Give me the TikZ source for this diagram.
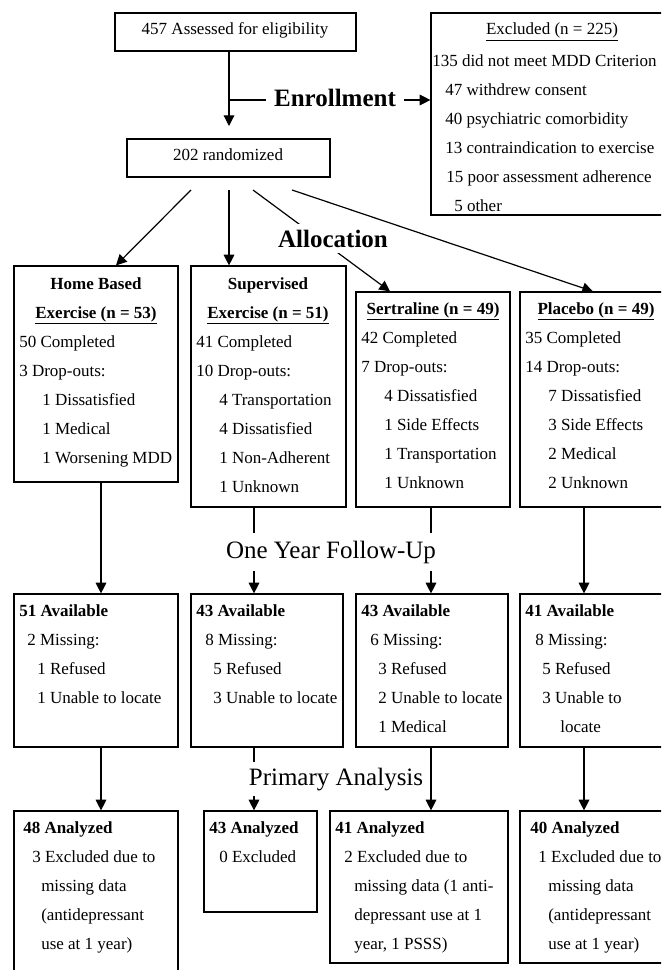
\documentclass[tikz,border=0pt]{standalone}
\usepackage{fontspec}
\setmainfont{Liberation Serif}
\usetikzlibrary{arrows.meta,fit}
\newlength\pxl
\setlength\pxl{0.75pt}
\newcommand\myind[1]{\hspace*{#1\pxl}}
\newcommand\freg{\fontsize{12.75}{21.75}\selectfont}
\newcommand\fbigsz{\fontsize{18.75}{22}\selectfont}
\begin{document}
\begin{tikzpicture}[x=0.75pt,y=-0.75pt,
  box/.style={draw, line width=0.9pt, inner sep=0pt},
  txt/.style={inner sep=0pt, anchor=north west, align=left, font=\freg},
  ctr/.style={inner sep=0pt, anchor=base, font=\freg},
  hdr/.style={inner sep=0pt, anchor=base, font=\freg\bfseries},
  con/.style={line width=0.9pt},
  arr/.style={con, -{Triangle[length=8pt,width=8pt]}},
  phase/.style={font=\fbigsz, fill=white, anchor=base}]
\useasboundingbox (0,0) rectangle (661,970);
\clip (0,0) rectangle (661,970);
\fill[white] (0,0) rectangle (661,970);

% ---------- boxes ----------
\node[box, fit={(115,13) (356,51)}] (assess) {};
\node[box, fit={(431,13) (680,215)}] (excl) {};
\node[box, fit={(127,139) (330,177)}] (rand) {};
\node[box, fit={(14,266) (178,482)}] (armH) {};
\node[box, fit={(191,266) (346,507)}] (armS) {};
\node[box, fit={(356,292) (510,507)}] (armT) {};
\node[box, fit={(520,292) (680,507)}] (armP) {};
\node[box, fit={(14,594) (178,747)}] (avH) {};
\node[box, fit={(191,594) (343,747)}] (avS) {};
\node[box, fit={(356,594) (508,747)}] (avT) {};
\node[box, fit={(520,594) (680,747)}] (avP) {};
\node[box, fit={(14,811) (178,990)}] (anH) {};
\node[box, fit={(204,811) (317,912)}] (anS) {};
\node[box, fit={(330,811) (508,963)}] (anT) {};
\node[box, fit={(520,811) (680,963)}] (anP) {};

% ---------- texts ----------
\node[ctr] (assessT) at (235,35) {457 Assessed for eligibility};
\node[ctr] (exclT) at (552,35) {\underline{Excluded (n = 225)}};
\node[txt] (exclL) at (432,54) {135 did not meet MDD Criterion\\\myind{13}47 withdrew consent\\\myind{13}40 psychiatric comorbidity\\\myind{13}13 contraindication to exercise\\\myind{14}15 poor assessment adherence\\\myind{22}5 other};
\node[ctr] (randT) at (228,161) {202 randomized};

\node[hdr] (armHh1) at (96,289) {Home Based};
\node[hdr] (armHh2) at (96,318) {\underline{Exercise (n = 53)}};
\node[hdr] (armSh1) at (268,289) {Supervised};
\node[hdr] (armSh2) at (268,318) {\underline{Exercise (n = 51)}};
\node[hdr] (armTh) at (433,314) {\underline{Sertraline (n = 49)}};
\node[hdr] (armPh) at (596,314) {\underline{Placebo (n = 49)}};

\node[txt] (armHL) at (19,335) {50 Completed\\3 Drop-outs:\\\myind{23}1 Dissatisfied\\\myind{23}1 Medical\\\myind{23}1 Worsening MDD};
\node[txt] (armSL) at (196,335) {41 Completed\\10 Drop-outs:\\\myind{23}4 Transportation\\\myind{23}4 Dissatisfied\\\myind{23}1 Non-Adherent\\\myind{23}1 Unknown};
\node[txt] (armTL) at (361,331) {42 Completed\\7 Drop-outs:\\\myind{23}4 Dissatisfied\\\myind{23}1 Side Effects\\\myind{23}1 Transportation\\\myind{23}1 Unknown};
\node[txt] (armPL) at (525,331) {35 Completed\\14 Drop-outs:\\\myind{23}7 Dissatisfied\\\myind{23}3 Side Effects\\\myind{23}2 Medical\\\myind{23}2 Unknown};

\node[txt] (avHL) at (19,604) {\textbf{51 Available}\\\myind{8}2 Missing:\\\myind{18}1 Refused\\\myind{18}1 Unable to locate};
\node[txt] (avSL) at (196,604) {\textbf{43 Available}\\\myind{9}8 Missing:\\\myind{17}5 Refused\\\myind{17}3 Unable to locate};
\node[txt] (avTL) at (361,604) {\textbf{43 Available}\\\myind{9}6 Missing:\\\myind{17}3 Refused\\\myind{17}2 Unable to locate\\\myind{17}1 Medical};
\node[txt] (avPL) at (525,604) {\textbf{41 Available}\\\myind{10}8 Missing:\\\myind{17}5 Refused\\\myind{17}3 Unable to\\\myind{35}locate};

\node[txt] (anHL) at (23,821) {\textbf{48 Analyzed}\\\myind{9}3 Excluded due to\\\myind{18}missing data\\\myind{18}(antidepressant\\\myind{18}use at 1 year)};
\node[txt] (anSL) at (209,821) {\textbf{43 Analyzed}\\\myind{10}0 Excluded};
\node[txt] (anTL) at (335,821) {\textbf{41 Analyzed}\\\myind{9}2 Excluded due to\\\myind{19}missing data (1 anti-\\\myind{19}depressant use at 1\\\myind{19}year, 1 PSSS)};
\node[txt] (anPL) at (530,821) {\textbf{40 Analyzed}\\\myind{8}1 Excluded due to\\\myind{18}missing data\\\myind{18}(antidepressant\\\myind{18}use at 1 year)};

% ---------- enrollment ----------
\coordinate (aT) at (229,126);
\draw[arr] (assess.south -| aT) -- (aT);
\coordinate (eB) at (229,100);
\node[font=\fbigsz\bfseries, inner sep=0pt, inner xsep=6pt, anchor=base] (enr) at (335,107) {Enrollment};
\draw[con] (eB) -- (eB -| enr.west);
\draw[arr] (eB -| enr.east) -- (eB -| excl.west);

% ---------- allocation ----------
\coordinate (rH) at (191,190);
\coordinate (tH) at (116,0);
\coordinate (rS) at (229,190);
\coordinate (rT) at (253,190);
\coordinate (tT) at (390,0);
\coordinate (rP) at (292,190);
\coordinate (tP) at (593,0);
\draw[arr] (rH) -- (armH.north -| tH);
\draw[arr] (rS) -- (armS.north -| rS);
\draw[arr] (rT) -- (armT.north -| tT);
\draw[arr] (rP) -- (armP.north -| tP);
\node[phase, font=\fbigsz\bfseries, inner xsep=1pt, inner ysep=4pt] (alloc) at (333,247) {Allocation};

% ---------- follow-up ----------
\coordinate (cH) at (101,0);
\coordinate (cS) at (254,0);
\coordinate (cT) at (431,0);
\coordinate (cP) at (584,0);
\draw[arr] (armH.south -| cH) -- (avH.north -| cH);
\draw[arr] (armS.south -| cS) -- (avS.north -| cS);
\draw[arr] (armT.south -| cT) -- (avT.north -| cT);
\draw[arr] (armP.south -| cP) -- (avP.north -| cP);
\node[phase, inner xsep=6pt, inner ysep=6pt] (fu) at (331,558) {One Year Follow-Up};

% ---------- analysis ----------
\draw[arr] (avH.south -| cH) -- (anH.north -| cH);
\draw[arr] (avS.south -| cS) -- (anS.north -| cS);
\draw[arr] (avT.south -| cT) -- (anT.north -| cT);
\draw[arr] (avP.south -| cP) -- (anP.north -| cP);
\node[phase, inner xsep=2pt, inner ysep=4pt] (pa) at (336,785) {Primary Analysis};
\end{tikzpicture}
\end{document}
